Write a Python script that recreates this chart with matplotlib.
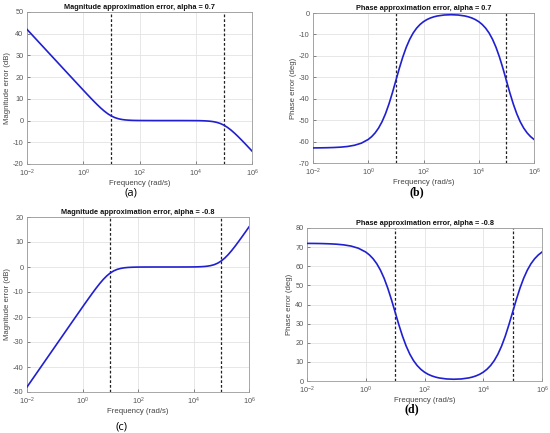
import matplotlib
matplotlib.use("Agg")
import matplotlib.pyplot as plt

plt.rcParams['font.family'] = ['Liberation Sans', 'DejaVu Sans']
plt.rcParams['axes.unicode_minus'] = False

# log10 of frequency (rad/s)
freq_exp = [-2, -1.75, -1.5, -1.25, -1, -0.75, -0.5, -0.25,
            0, 0.125, 0.25, 0.375, 0.5, 0.625, 0.75, 0.875, 1, 1.125, 1.25, 1.375,
            1.5, 1.625, 1.75, 1.875, 2, 2.125, 2.25, 2.375, 2.5,
            2.75, 3, 3.25,
            3.5, 3.625, 3.75, 3.875, 4, 4.125, 4.25, 4.375, 4.5, 4.625, 4.75, 4.875,
            5, 5.125, 5.25, 5.375, 5.5, 5.625, 5.75, 5.875, 6]
freq = [10 ** e for e in freq_exp]

mag_a = [42.00, 38.50, 35.00, 31.50, 28.00, 24.50, 21.00, 17.51,
         14.03, 12.30, 10.59, 8.92, 7.29, 5.75, 4.34, 3.11, 2.11, 1.36, 0.84, 0.50,
         0.29, 0.17, 0.09, 0.05, 0.03, 0.02, 0.01, 0.01, 0.00,
         0.00, 0.00, 0.00,
         0.00, -0.01, -0.01, -0.02, -0.03, -0.05, -0.09, -0.17, -0.29, -0.50, -0.84, -1.36,
         -2.11, -3.11, -4.34, -5.75, -7.29, -8.92, -10.59, -12.30, -14.03]
phase_b = [-62.96, -62.93, -62.87, -62.77, -62.60, -62.29, -61.73, -60.75,
           -59.00, -57.68, -55.94, -53.66, -50.72, -46.99, -42.45, -37.20, -31.50, -25.81, -20.56, -16.02,
           -12.30, -9.35, -7.08, -5.35, -4.04, -3.06, -2.32, -1.79, -1.39,
           -0.94, -0.80, -0.94,
           -1.39, -1.79, -2.32, -3.06, -4.04, -5.35, -7.08, -9.35, -12.30, -16.02, -20.56, -25.81,
           -31.50, -37.20, -42.45, -46.99, -50.72, -53.66, -55.94, -57.68, -59.00]
mag_c = [-48.00, -44.00, -40.00, -36.00, -32.00, -28.00, -24.00, -20.01,
         -16.03, -14.06, -12.11, -10.19, -8.33, -6.57, -4.95, -3.55, -2.41, -1.55, -0.95, -0.57,
         -0.33, -0.19, -0.11, -0.06, -0.03, -0.02, -0.01, -0.01, 0.00,
         0.00, 0.00, 0.00,
         0.00, 0.01, 0.01, 0.02, 0.03, 0.06, 0.11, 0.19, 0.33, 0.57, 0.95, 1.55,
         2.41, 3.55, 4.95, 6.57, 8.33, 10.19, 12.11, 14.06, 16.03]
phase_d = [71.95, 71.92, 71.86, 71.74, 71.54, 71.18, 70.55, 69.42,
           67.43, 65.92, 63.93, 61.33, 57.96, 53.71, 48.52, 42.51, 36.00, 29.50, 23.49, 18.30,
           14.05, 10.69, 8.09, 6.11, 4.61, 3.49, 2.66, 2.04, 1.59,
           1.07, 0.92, 1.07,
           1.59, 2.04, 2.66, 3.49, 4.61, 6.11, 8.09, 10.69, 14.05, 18.30, 23.49, 29.50,
           36.00, 42.51, 48.52, 53.71, 57.96, 61.33, 63.93, 65.92, 67.43]

band = [1e1, 1e5]
xticks = [1e-2, 1e0, 1e2, 1e4, 1e6]

panels = [
    dict(y=mag_a, title='Magnitude approximation error, alpha = 0.7', ylabel='Magnitude error (dB)',
         ylim=(-20, 50), yticks=list(range(-20, 51, 10)), box=(27, 252, 12, 164),
         lab='(a)', labpos=(131, 193), serif=False),
    dict(y=phase_b, title='Phase approximation error, alpha = 0.7', ylabel='Phase error (deg)',
         ylim=(-70, 0), yticks=list(range(-70, 1, 10)), box=(313, 534, 13, 163),
         lab='(b)', labpos=(417, 192), serif=True),
    dict(y=mag_c, title='Magnitude approximation error, alpha = -0.8', ylabel='Magnitude error (dB)',
         ylim=(-50, 20), yticks=list(range(-50, 21, 10)), box=(27, 249, 217, 392),
         lab='(c)', labpos=(121, 427), serif=False),
    dict(y=phase_d, title='Phase approximation error, alpha = -0.8', ylabel='Phase error (deg)',
         ylim=(0, 80), yticks=list(range(0, 81, 10)), box=(307, 542, 228, 381),
         lab='(d)', labpos=(412, 409), serif=True),
]

W, H = 550, 433
fig = plt.figure(figsize=(W / 100, H / 100), dpi=100)

for p in panels:
    l, r, t, b = p['box']
    ax = fig.add_axes([l / W, 1 - b / H, (r - l) / W, (b - t) / H])
    ax.semilogx(freq, p['y'], color='#2020d0', lw=1.2, zorder=3)
    for f in band:
        ax.axvline(f, color='#222222', lw=0.9, ls=(0, (2.2, 1.6)), zorder=2)
    ax.set_xlim(1e-2, 1e6)
    ax.set_ylim(*p['ylim'])
    ax.set_xticks(xticks)
    ax.xaxis.set_minor_locator(matplotlib.ticker.NullLocator())
    ax.set_yticks(p['yticks'])
    ax.grid(True, color='#e3e3e3', lw=0.6, zorder=0)
    ax.tick_params(labelsize=5.3, colors='#555555', length=2, width=0.5, direction='in')
    ax.tick_params(axis='x', pad=3)
    ax.tick_params(axis='y', pad=2.5)
    for s in ax.spines.values():
        s.set_color('#999999')
        s.set_linewidth(0.6)
    ax.set_title(p['title'], fontsize=5.3, fontweight='bold', pad=2.5, color='#111111')
    ax.set_xlabel('Frequency (rad/s)', fontsize=5.6, color='#444444', labelpad=0.5)
    ax.set_ylabel(p['ylabel'], fontsize=5.6, color='#444444', labelpad=1.5)
    if p['serif']:
        fig.text(p['labpos'][0] / W, 1 - p['labpos'][1] / H, p['lab'], fontsize=8.5,
                 fontweight='bold', family=['Liberation Serif', 'DejaVu Serif'],
                 ha='center', va='center')
    else:
        fig.text(p['labpos'][0] / W, 1 - p['labpos'][1] / H, p['lab'], fontsize=8,
                 family=['Open Sans', 'DejaVu Sans'], ha='center', va='center')

fig.savefig('out.png', dpi=100)
